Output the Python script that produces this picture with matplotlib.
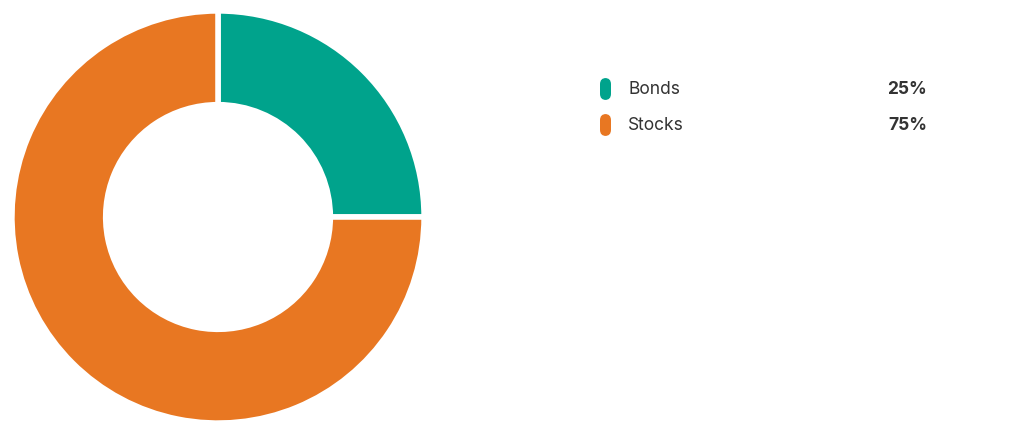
import matplotlib.pyplot as plt
from matplotlib.patches import FancyBboxPatch

labels = ["Bonds", "Stocks"]
values = [25, 75]
colors = ["#00a38c", "#e87722"]

fig = plt.figure(figsize=(10.24, 4.32), dpi=100)
W, H = 1024, 432

# donut
ax = fig.add_axes([15 / W, 12 / H, 406 / W, 406 / H])
ax.pie(values, colors=colors, startangle=90, counterclock=False,
       radius=1.0, wedgeprops=dict(width=0.455, edgecolor="white", linewidth=4))
ax.set_xlim(-0.985, 0.985)
ax.set_ylim(-0.985, 0.985)
ax.set_aspect("equal")
ax.axis("off")

# legend drawn by hand
rows_y = [89, 125]
for lab, val, col, y in zip(labels, values, colors, rows_y):
    box = FancyBboxPatch((600 / W, (H - y - 11) / H), 11 / W, 22 / H,
                         boxstyle="round,pad=0,rounding_size=0.006",
                         transform=fig.transFigure, facecolor=col,
                         edgecolor="none", mutation_aspect=W / H)
    fig.add_artist(box)
    fig.text(628 / W, (H - y) / H, lab, fontsize=12.5, family="Inter",
             color="#333333", va="center", ha="left")
    fig.text(927 / W, (H - y) / H, f"{val}%", fontsize=12.5, family="Inter",
             fontweight="bold", color="#333333", va="center", ha="right")

fig.savefig("out.png", dpi=100)
